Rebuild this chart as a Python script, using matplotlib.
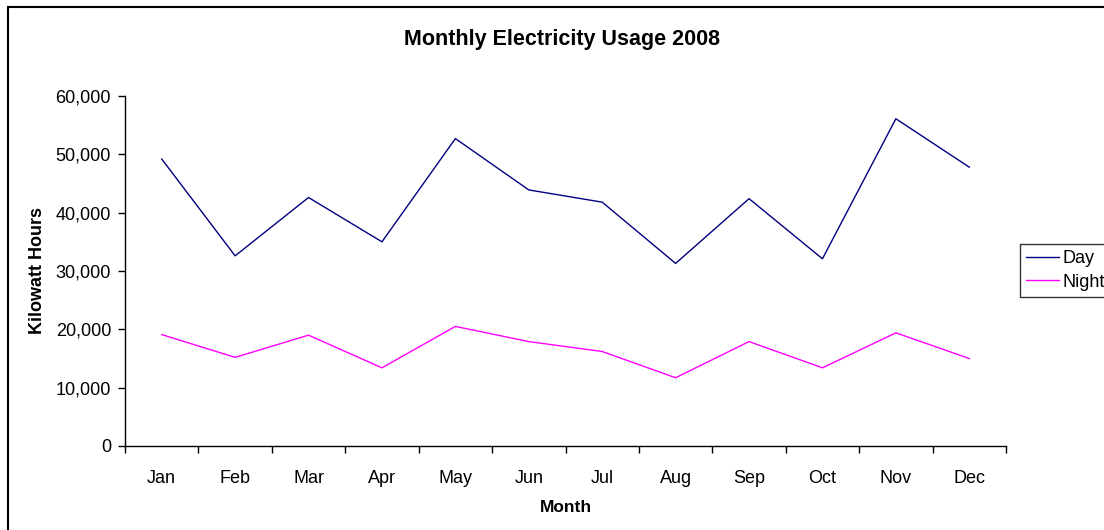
import matplotlib
matplotlib.use('Agg')
import matplotlib.pyplot as plt
from matplotlib.patches import Rectangle

months = ['Jan', 'Feb', 'Mar', 'Apr', 'May', 'Jun', 'Jul', 'Aug', 'Sep', 'Oct', 'Nov', 'Dec']
day = [49200, 32600, 42600, 35000, 52700, 43900, 41800, 31300, 42400, 32100, 56100, 47800]
night = [19100, 15200, 19000, 13400, 20500, 17900, 16200, 11700, 17900, 13400, 19400, 15000]

plt.rcParams['font.family'] = ['Liberation Sans', 'DejaVu Sans']

fig = plt.figure(figsize=(11.04, 5.30), dpi=100)
ax = fig.add_axes([125/1104, 84/530, 881/1104, 350/530])

x = list(range(len(months)))
ax.plot(x, day, color='#000080', lw=1, label='Day')
ax.plot(x, night, color='#FF00FF', lw=1, label='Night')

ax.set_xlim(-0.5, len(months) - 0.5)
ax.set_ylim(0, 60000)
ax.set_yticks(range(0, 60001, 10000))
ax.set_yticklabels([f'{v:,}' for v in range(0, 60001, 10000)], fontsize=13)

# ticks between categories, labels in the middle
ax.set_xticks([i - 0.5 for i in range(len(months) + 1)])
ax.set_xticklabels([])
ax.set_xticks(x, minor=True)
ax.set_xticklabels(months, minor=True, fontsize=13)
ax.tick_params(axis='x', which='major', length=5, direction='out', width=1)
ax.tick_params(axis='x', which='minor', length=0, pad=17)
ax.tick_params(axis='y', length=5, direction='out', width=1, pad=5)

for s in ['top', 'right']:
    ax.spines[s].set_visible(False)
for s in ['left', 'bottom']:
    ax.spines[s].set_linewidth(1)

fig.text(562/1104, 1 - 40/530, 'Monthly Electricity Usage 2008', ha='center', va='center',
         fontsize=15.5, fontweight='bold')
fig.text(566/1104, 1 - 507/530, 'Month', ha='center', va='center', fontsize=12.5, fontweight='bold')
fig.text(38/1104, 1 - 270/530, 'Kilowatt Hours', ha='center', va='center', rotation=90,
         fontsize=13, fontweight='bold')

leg = fig.legend(loc='upper left', bbox_to_anchor=(1020/1104, 1 - 244/530), fontsize=13,
                 frameon=True, fancybox=False, borderaxespad=0, handlelength=1.8,
                 borderpad=0.35, labelspacing=0.35, handletextpad=0.2)
leg.get_frame().set_edgecolor('black')
leg.get_frame().set_linewidth(1)

# chart area border
fig.patches.append(Rectangle((8/1104, -0.1), 1.2, 1 - 7/530 + 0.1, transform=fig.transFigure,
                             fill=False, edgecolor='black', lw=1.5))

fig.savefig('out.png', dpi=100)
